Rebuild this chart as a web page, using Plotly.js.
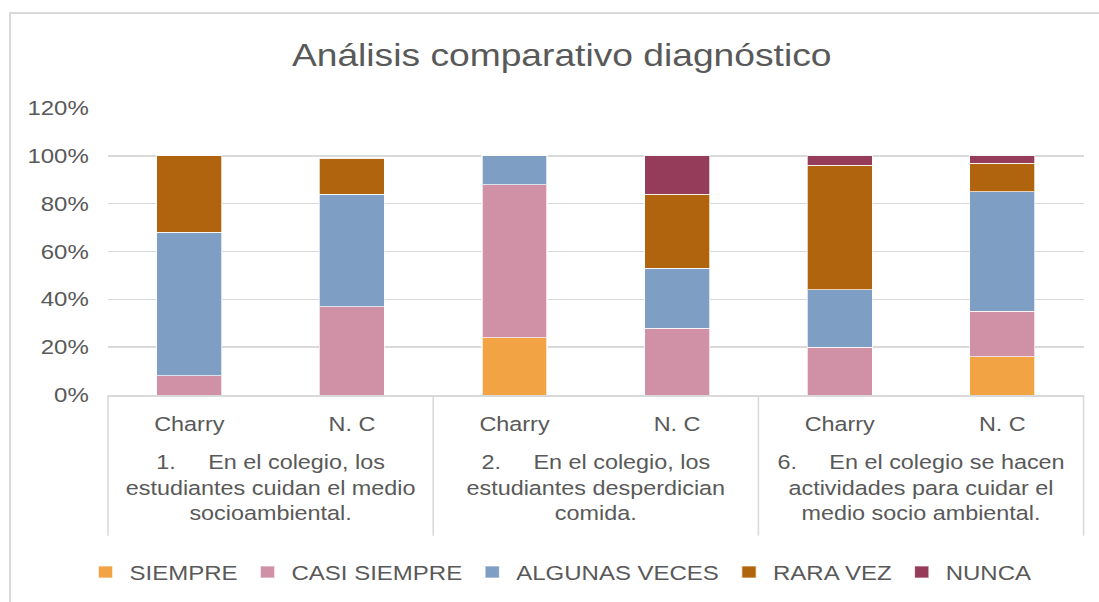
<!DOCTYPE html>
<html>
<head>
<meta charset="utf-8">
<script src="https://cdn.plot.ly/plotly-3.0.1.min.js"></script>
<style>
  html, body { margin: 0; padding: 0; background: #ffffff; }
  #wrap { position: relative; width: 1099px; height: 602px; overflow: hidden; }
  /* The reference chart is stretched horizontally (~1.2x); reproduce that stretch */
  #chart { position: absolute; left: 0; top: 0; width: 916px; height: 602px;
           transform: scaleX(1.2); transform-origin: 0 0; }
  #frame { position: absolute; left: 9px; top: 12px; width: 1200px; height: 700px;
           border-left: 2px solid #d9d9d9; border-top: 2px solid #d9d9d9; pointer-events: none; }
</style>
</head>
<body>
<div id="wrap">
  <div id="chart"></div>
  <div id="frame"></div>
</div>
<script>
// Question groups (outer category level)
const questions = [
  "1.\u00a0\u00a0\u00a0\u00a0\u00a0En el colegio, los<br>estudiantes cuidan el medio<br>socioambiental.",
  "2.\u00a0\u00a0\u00a0\u00a0\u00a0En el colegio, los<br>estudiantes desperdician<br>comida.",
  "6.\u00a0\u00a0\u00a0\u00a0\u00a0En el colegio se hacen<br>actividades para cuidar el<br>medio socio ambiental."
];
// Schools (inner category level)
const schools = ["Charry", "N. C"];

// Series values in percent, order: Q1 Charry, Q1 N.C, Q2 Charry, Q2 N.C, Q6 Charry, Q6 N.C
const siempre      = [0,  0,  24, 0,  0,  16];
const casiSiempre  = [8,  37, 64, 28, 20, 19];
const algunasVeces = [60, 47, 12, 25, 24, 50];
const raraVez      = [32, 15, 0,  31, 52, 12];
const nunca        = [0,  0,  0,  16, 4,  3];

const seriesNames = ["SIEMPRE", "CASI SIEMPRE", "ALGUNAS VECES", "RARA VEZ", "NUNCA"];
const seriesValues = [siempre, casiSiempre, algunasVeces, raraVez, nunca];
const seriesColors = ["#F2A445", "#D090A6", "#7F9EC4", "#B0640E", "#943C5A"];

const outer = [];
const inner = [];
questions.forEach(q => schools.forEach(s => { outer.push("<br>" + q); inner.push(s); }));

const font = "Liberation Sans, Arial, Helvetica, sans-serif";
const textColor = "#595959";

const traces = seriesNames.map((name, i) => ({
  type: "bar",
  name: name,
  x: [outer, inner],
  y: seriesValues[i],
  marker: { color: seriesColors[i], line: { color: "rgba(255,255,255,0.7)", width: 1 } },
  hoverinfo: "skip"
}));

// Group dividers below the axis (at group boundaries, in paper fractions)
const dividerShapes = [];
for (let k = 0; k <= questions.length; k++) {
  const xf = k / questions.length;
  dividerShapes.push({
    type: "line", xref: "paper", yref: "paper",
    x0: xf, x1: xf, y0: 0, y1: -0.49,
    line: { color: "#d9d9d9", width: 1.3 }
  });
}

const layout = {
  width: 916,
  height: 602,
  barmode: "stack",
  bargap: 0.6,
  paper_bgcolor: "rgba(0,0,0,0)",
  plot_bgcolor: "#ffffff",
  margin: { l: 90, r: 13, t: 108, b: 206 },
  font: { family: font, color: textColor, size: 19.5 },
  title: {
    text: "Análisis comparativo diagnóstico",
    font: { family: font, size: 31, color: textColor },
    x: 0.511, xanchor: "center",
    y: 0.909, yanchor: "middle"
  },
  xaxis: {
    type: "multicategory",
    showdividers: false,
    showline: true,
    linecolor: "#d9d9d9",
    linewidth: 1.5,
    showgrid: false,
    ticks: "",
    ticklabelstandoff: 11,
    tickfont: { family: font, size: 19.5, color: textColor }
  },
  yaxis: {
    range: [0, 120],
    dtick: 20,
    ticksuffix: "%",
    showgrid: true,
    gridcolor: "#d9d9d9",
    gridwidth: 1.5,
    zeroline: false,
    showline: false,
    ticks: "",
    ticklabelstandoff: 15,
    tickfont: { family: font, size: 20, color: textColor }
  },
  shapes: dividerShapes,
  showlegend: true,
  legend: {
    orientation: "h",
    x: 0.463, xanchor: "center",
    y: -0.611, yanchor: "middle",
    font: { family: font, size: 20, color: textColor },
    traceorder: "normal",
    itemclick: false
  }
};

Plotly.newPlot("chart", traces, layout, { staticPlot: true, displayModeBar: false });
</script>
</body>
</html>
